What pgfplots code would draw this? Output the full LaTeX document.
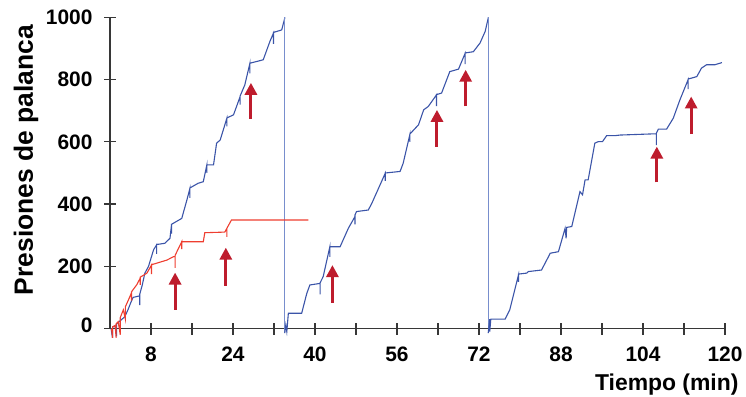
\documentclass[border=0pt]{standalone}
\usepackage{fontspec}
\setmainfont{Liberation Sans}
\usepackage{pgfplots}
\pgfplotsset{compat=1.18}
\usetikzlibrary{arrows.meta}
\definecolor{cblue}{RGB}{59,84,168}
\definecolor{cbluel}{RGB}{120,142,205}
\definecolor{cred}{RGB}{238,62,48}
\definecolor{carrow}{RGB}{190,28,45}
\definecolor{caxis}{RGB}{55,55,55}
\begin{document}
\begin{tikzpicture}
\begin{axis}[name=ax, at={(0,0)}, anchor=south west,
  scale only axis, width=615bp, height=311bp,
  xmin=0, xmax=120, ymin=0, ymax=1000,
  axis lines=left, axis line style={caxis, line width=1.2bp, -},
  tick style={caxis, line width=1.2bp}, tick align=center,
  major tick length=12bp, minor tick length=12bp,
  xtick={8,24,...,120}, minor xtick={16,32,...,112},
  ytick={0,200,...,1000},
  yticklabels={\raisebox{6bp}{0},200,400,600,800,1000},
  ticklabel style={font=\fontsize{21}{25}\selectfont\bfseries},
  yticklabel style={xshift=-8bp},
  xticklabel style={yshift=-9bp},
  /pgf/number format/assume math mode=true,
  /pgf/number format/1000 sep={},
  scaled ticks=false, clip=false,
]
% blue segment 1
\addplot[cblue, line width=1.1bp] coordinates {
(0.2,0)(0.5,-30)(0.5,5)(1,8)(1.3,-25)(1.3,15)(2,25)(2.9,38)(3.5,60)(4.1,85)(4.5,100)(5.8,105)(5.8,75)(5.8,110)(6.3,140)(6.8,178)(7.5,199)(8.5,253)(9.1,269)(9.1,240)(9.1,270)(10.7,274)(11.7,290)(12,333)(12,305)(12,335)(14,354)(15,413)(15.6,451)(15.6,420)(15.6,452)(17.2,467)(18.2,472)(18.9,526)(18.9,500)(18.9,526)(20.2,526)(20.8,596)(21.5,606)(22.8,676)(22.8,650)(22.8,677)(24.1,687)(25.4,746)(25.4,720)(25.4,748)(26.3,783)(27.3,853)(27.3,820)(27.3,853)(29.9,864)(31.2,923)(31.9,950)(31.9,915)(31.9,952)(33.5,960)(34.1,998)(34.1,1000)
};
\addplot[cbluel, line width=1.1bp] coordinates {(34.1,1000)(34.1,-15)};
% blue segment 2
\addplot[cblue, line width=1.1bp] coordinates {
(34.1,-15)(34.3,11)(34.5,-10)(34.8,49)(37.4,49)(38.4,113)(39,140)(41,145)(41,110)(41,147)(41.6,167)(42.9,263)(42.9,230)(42.9,263)(44.9,263)(46.5,322)(47.8,360)(47.8,335)(47.8,365)(48.1,376)(50.4,381)(51.1,403)(52.7,462)(53.7,499)(53.7,475)(53.7,500)(56.6,505)(57.2,531)(58.5,623)(58.5,600)(58.5,625)(60.2,655)(61.2,703)(62.1,714)(63.7,751)(63.7,715)(63.7,752)(64.7,757)(66.3,826)(68,834)(69.3,885)(69.3,850)(69.3,886)(70.9,890)(72.2,918)(73.2,955)(73.8,998)(73.8,1000)
};
\addplot[cbluel, line width=1.1bp] coordinates {(73.8,1000)(73.8,-15)};
% blue segment 3
\addplot[cblue, line width=1.1bp] coordinates {
(73.8,-15)(74.1,30)(74.1,-10)(74.3,30)(77.1,30)(78,60)(79.7,172)(79.7,150)(79.7,175)(81.3,178)(81.6,183)(84.2,188)(85.9,242)(87.5,247)(88.8,322)(89,290)(89.1,325)(90.1,328)(91.7,440)(92.2,430)(92.7,478)(93.3,478)(94.6,596)(95.3,601)(96.1,601)(96.9,620)(98.5,620)(99.5,622)(106.3,626)(106.6,626)(106.6,590)(106.6,628)(107,641)(108.6,641)(109.9,676)(111.2,735)(112.8,800)(112.8,770)(112.8,802)(114.5,810)(115.4,837)(116.4,848)(118,848)(119.4,855)
};
% red series
\addplot[cred, line width=1.1bp] coordinates {
(0.3,0)(0.5,-30)(0.5,5)(1,10)(1.2,-30)(1.2,15)(1.6,22)(2,-20)(2,35)(2.6,60)(3,30)(3,70)(3.6,92)(4.2,115)(4.2,90)(4.2,118)(5.2,140)(5.9,162)(5.9,140)(5.9,165)(7.2,178)(8.1,204)(8.1,175)(8.1,205)(11.1,220)(12.4,231)(12.7,231)(12.7,195)(12.7,235)(14,279)(14,255)(14,279)(18.2,279)(18.5,308)(22.4,310)(22.8,322)(22.8,295)(22.8,322)(23.7,349)(38.7,349)
};
% arrows
\addplot[carrow, line width=3bp, -{Triangle[width=12bp,length=12bp]}] coordinates {(27.5,674)(27.5,790)};
\addplot[carrow, line width=3bp, -{Triangle[width=12bp,length=12bp]}] coordinates {(12.7,60)(12.7,180)};
\addplot[carrow, line width=3bp, -{Triangle[width=12bp,length=12bp]}] coordinates {(22.6,138)(22.6,260)};
\addplot[carrow, line width=3bp, -{Triangle[width=12bp,length=12bp]}] coordinates {(43.4,83)(43.4,204)};
\addplot[carrow, line width=3bp, -{Triangle[width=12bp,length=12bp]}] coordinates {(63.8,585)(63.8,703)};
\addplot[carrow, line width=3bp, -{Triangle[width=12bp,length=12bp]}] coordinates {(69.4,714)(69.4,832)};
\addplot[carrow, line width=3bp, -{Triangle[width=12bp,length=12bp]}] coordinates {(106.7,470)(106.7,585)};
\addplot[carrow, line width=3bp, -{Triangle[width=12bp,length=12bp]}] coordinates {(113.4,625)(113.4,746)};
\end{axis}
\node[rotate=90, anchor=base, font=\fontsize{26.5}{31}\selectfont\bfseries] at ([shift={(-77bp,168.5bp)}]ax.south west) {Presiones de palanca};
\node[anchor=base east, font=\fontsize{23}{28}\selectfont\bfseries] at ([shift={(632bp,-62bp)}]ax.south west) {Tiempo (min)};
\pgfresetboundingbox
\path ([shift={(-110bp,-68.5bp)}]ax.south west) rectangle ++(746bp,397bp);
\end{tikzpicture}
\end{document}
